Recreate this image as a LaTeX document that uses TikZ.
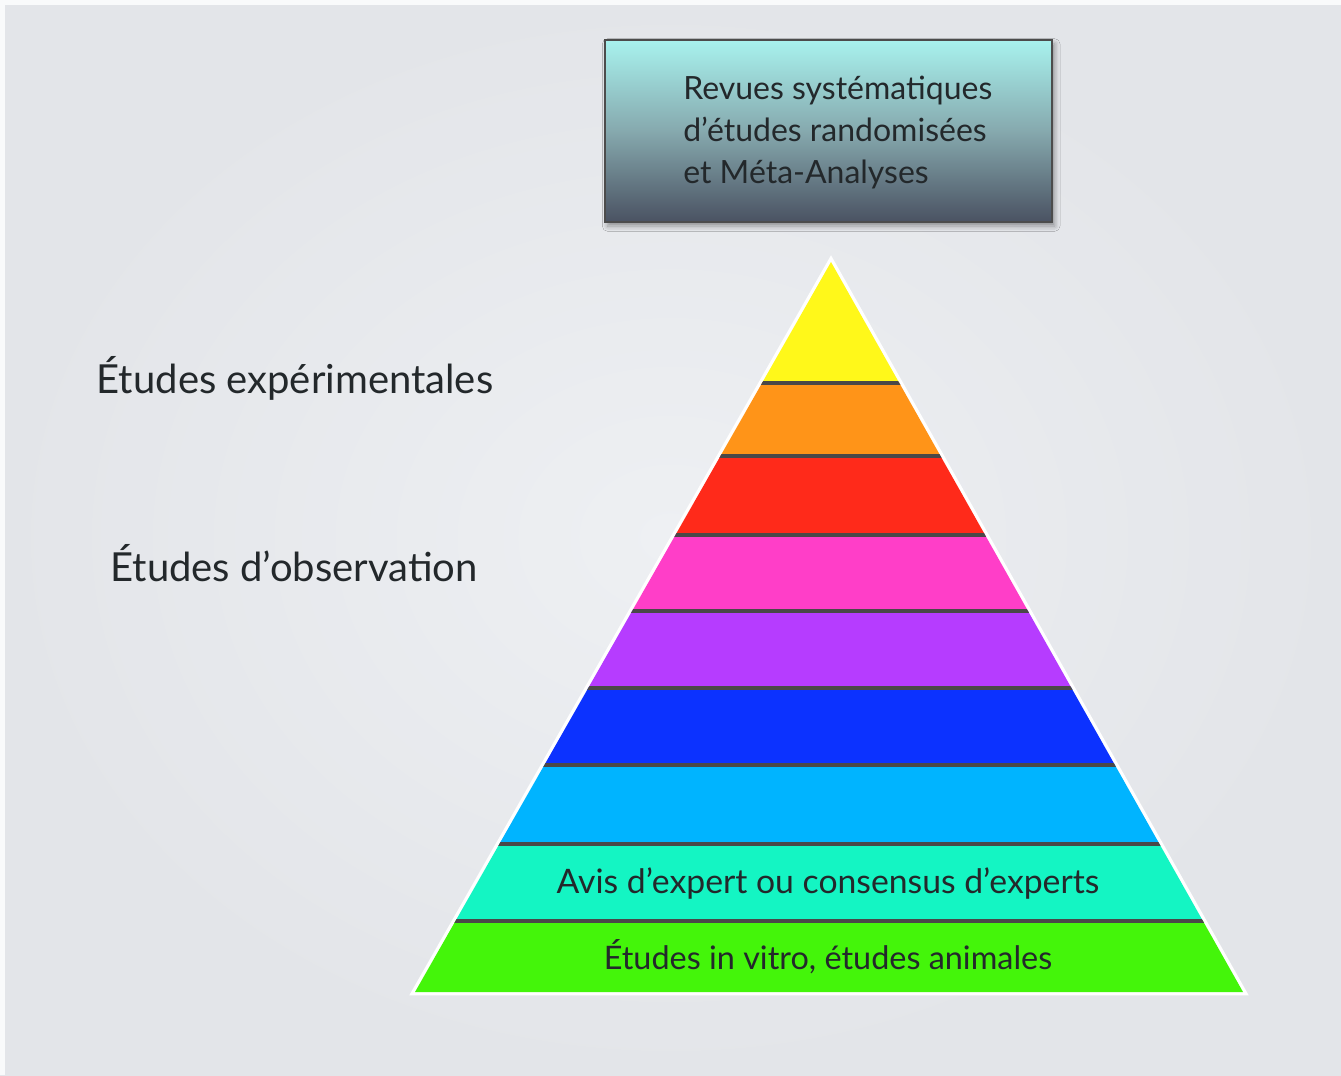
\documentclass[tikz,border=0pt]{standalone}
\usepackage{fontspec}
\setmainfont{Lato}
\usetikzlibrary{shadows.blur,fadings}
\definecolor{bgc}{HTML}{E3E5E9}
\definecolor{bgl}{HTML}{EEF0F3}
\definecolor{cyel}{HTML}{FFF81A}
\definecolor{cora}{HTML}{FF9418}
\definecolor{cred}{HTML}{FF2A1A}
\definecolor{cmag}{HTML}{FF3EC8}
\definecolor{cpur}{HTML}{B63CFF}
\definecolor{cblu}{HTML}{0C32FF}
\definecolor{csky}{HTML}{00B4FF}
\definecolor{ctea}{HTML}{14F5C3}
\definecolor{cgre}{HTML}{44F50A}
\definecolor{sepc}{HTML}{4A4848}
\definecolor{boxtop}{HTML}{A8F2EE}
\definecolor{boxmid}{HTML}{86A9AE}
\definecolor{boxbot}{HTML}{4A5262}
\definecolor{txt}{HTML}{23282B}
\tikzset{
  lbl/.style={font=\fontsize{30}{36}\selectfont, text=txt, inner sep=0pt},
  bandlbl/.style={text=txt, inner sep=0pt},
  boxlbl/.style={font=\fontsize{24}{31.5}\selectfont, text=txt, align=left, inner sep=0pt},
  sepline/.style={draw=sepc, line width=3.5pt},
}
\begin{document}
\begin{tikzpicture}[x=0.75pt,y=-0.75pt]
% background
\fill[bgc] (0,0) rectangle (1341,1075);
\shade[inner color=bgl, outer color=bgc] (0,0) rectangle (1341,1075);
\fill[white!80!bgc] (0,0) rectangle (1341,5);
\fill[white!80!bgc] (0,0) rectangle (5,1075);
\useasboundingbox (0,0) rectangle (1341,1075);

% top box
\node[draw=black!70, line width=0.8pt, minimum width=447*0.75pt, minimum height=182*0.75pt,
  top color=boxtop, bottom color=boxbot, middle color=boxmid, inner sep=0pt,
  blur shadow={shadow xshift=2pt, shadow yshift=-3pt, shadow blur radius=4pt, shadow opacity=40}]
  (box) at (828.5,131) {};
\node[boxlbl, anchor=west] (boxtxt) at (683,133) {Revues systématiques\\d'études randomisées\\et Méta-Analyses};

% pyramid
\coordinate (apex) at (831,262);
\coordinate (bl) at (415,992);
\coordinate (br) at (1243,992);
\draw[white, line width=5pt, line join=miter] (apex) -- (bl) -- (br) -- cycle;
\begin{scope}
\clip (apex) -- (bl) -- (br) -- cycle;
\fill[cyel] (400,255) rectangle (1260,382);
\fill[cora] (400,382) rectangle (1260,455);
\fill[cred] (400,455) rectangle (1260,534);
\fill[cmag] (400,534) rectangle (1260,610);
\fill[cpur] (400,610) rectangle (1260,687);
\fill[cblu] (400,687) rectangle (1260,764);
\fill[csky] (400,764) rectangle (1260,843);
\fill[ctea] (400,843) rectangle (1260,920);
\fill[cgre] (400,920) rectangle (1260,1000);
\foreach \yy in {383,456,535,611,688,765,844,921}
  \draw[sepline] (400,\yy) -- (1260,\yy);
\end{scope}

% band labels
\node[bandlbl, font=\fontsize{25.3}{30}\selectfont] (avis) at (828,883) {Avis d'expert ou consensus d'experts};
\node[bandlbl, font=\fontsize{24.3}{29}\selectfont] (vitro) at (828,957) {Études in vitro, études animales};

% left labels
\node[lbl] (exp) at (295,378) {Études expérimentales};
\node[lbl] (obs) at (294,563) {Études d'observation};
\end{tikzpicture}
\end{document}
